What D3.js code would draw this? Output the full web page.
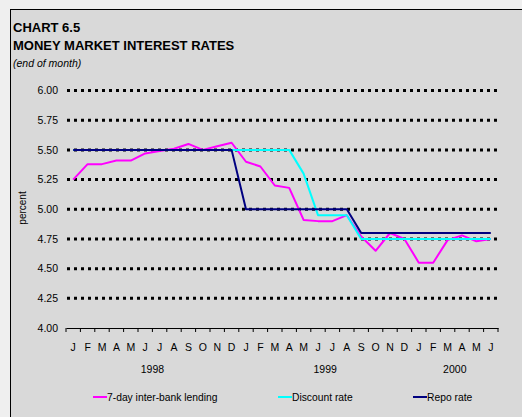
<!DOCTYPE html>
<html>
<head>
<meta charset="utf-8">
<script src="https://cdnjs.cloudflare.com/ajax/libs/d3/7.8.5/d3.min.js"></script>
<style>
  body { margin: 0; background: #efefef; }
  svg { display: block; font-family: "Liberation Sans", Arial, sans-serif; }
</style>
</head>
<body>
<svg id="chart" width="522" height="417"></svg>
<script>
// month letters, Jan 1998 .. Jun 2000
var months = ["J","F","M","A","M","J","J","A","S","O","N","D",
              "J","F","M","A","M","J","J","A","S","O","N","D",
              "J","F","M","A","M","J"];
var years = ["1998", "1999", "2000"];
var yearSpans = [[0, 11], [12, 23], [24, 29]];
var yTicks = [4.00, 4.25, 4.50, 4.75, 5.00, 5.25, 5.50, 5.75, 6.00];

var interbank = [5.25, 5.38, 5.38, 5.41, 5.41, 5.47, 5.49, 5.51, 5.55, 5.50, 5.53, 5.56,
                 5.40, 5.36, 5.20, 5.18, 4.91, 4.90, 4.90, 4.95, 4.77, 4.65, 4.80, 4.75,
                 4.55, 4.55, 4.74, 4.78, 4.73, 4.75];
var discount  = [5.50, 5.50, 5.50, 5.50, 5.50, 5.50, 5.50, 5.50, 5.50, 5.50, 5.50, 5.50,
                 5.50, 5.50, 5.50, 5.50, 5.30, 4.95, 4.95, 4.95, 4.75, 4.75, 4.75, 4.75,
                 4.75, 4.75, 4.75, 4.75, 4.75, 4.75];
var repo      = [5.50, 5.50, 5.50, 5.50, 5.50, 5.50, 5.50, 5.50, 5.50, 5.50, 5.50, 5.50,
                 5.00, 5.00, 5.00, 5.00, 5.00, 5.00, 5.00, 5.00, 4.80, 4.80, 4.80, 4.80,
                 4.80, 4.80, 4.80, 4.80, 4.80, 4.80];

var series = [
  {name: "7-day inter-bank lending", color: "#ff00ff", values: interbank},
  {name: "Discount rate", color: "#00ffff", values: discount},
  {name: "Repo rate", color: "#000080", values: repo}
];

var svg = d3.select("#chart");

// chart frame (runs off the right and bottom edge)
svg.append("rect")
  .attr("x", 10.5).attr("y", 9.5)
  .attr("width", 530).attr("height", 420)
  .attr("fill", "#d9d9d9")
  .attr("stroke", "#000").attr("stroke-width", 1);

// titles
svg.append("text").attr("x", 13).attr("y", 32)
  .attr("font-size", "13px").attr("font-weight", "bold")
  .text("CHART 6.5");
svg.append("text").attr("x", 13).attr("y", 50)
  .attr("font-size", "13px").attr("font-weight", "bold")
  .text("MONEY MARKET INTEREST RATES");
svg.append("text").attr("x", 13).attr("y", 67)
  .attr("font-size", "10.5px").attr("font-style", "italic")
  .text("(end of month)");

var plotL = 66, plotR = 498, plotT = 90.5, plotB = 328;

var x = d3.scaleBand()
  .domain(d3.range(months.length))
  .range([plotL, plotR]);

var y = d3.scaleLinear()
  .domain([4, 6])
  .range([plotB, plotT]);

// dotted gridlines
svg.append("g").selectAll("line")
  .data(yTicks.filter(function(d) { return d > 4; }))
  .enter().append("line")
    .attr("x1", plotL + 1).attr("x2", plotR)
    .attr("y1", function(d) { return y(d); })
    .attr("y2", function(d) { return y(d); })
    .attr("stroke", "#000")
    .attr("stroke-width", 3)
    .attr("stroke-dasharray", "3,4");

// y labels
svg.append("g").selectAll("text")
  .data(yTicks)
  .enter().append("text")
    .attr("x", 58)
    .attr("y", function(d) { return y(d); })
    .attr("dy", "0.36em")
    .attr("text-anchor", "end")
    .attr("font-size", "10.5px")
    .text(function(d) { return d3.format(".2f")(d); });

svg.append("text")
  .attr("transform", "translate(26,208) rotate(-90)")
  .attr("text-anchor", "middle")
  .attr("font-size", "10px")
  .text("percent");

// x axis with ticks between months
var xAxis = d3.axisBottom(x).tickSize(0).tickFormat("");
svg.append("g")
  .attr("transform", "translate(0," + plotB + ")")
  .call(xAxis)
  .call(function(g) { g.select(".domain").attr("stroke", "#000").attr("stroke-width", 1); });

svg.append("g").selectAll("line")
  .data(d3.range(months.length + 1))
  .enter().append("line")
    .attr("x1", function(i) { return plotL + i * x.step(); })
    .attr("x2", function(i) { return plotL + i * x.step(); })
    .attr("y1", plotB).attr("y2", plotB + 4)
    .attr("stroke", "#000");

svg.append("g").selectAll("text")
  .data(months)
  .enter().append("text")
    .attr("x", function(d, i) { return x(i) + x.bandwidth() / 2; })
    .attr("y", 351)
    .attr("text-anchor", "middle")
    .attr("font-size", "10.5px")
    .text(function(d) { return d; });

svg.append("g").selectAll("text")
  .data(years)
  .enter().append("text")
    .attr("x", function(d, i) {
      var s = yearSpans[i];
      return (x(s[0]) + x(s[1]) + x.bandwidth()) / 2;
    })
    .attr("y", 373)
    .attr("text-anchor", "middle")
    .attr("font-size", "10.5px")
    .text(function(d) { return d; });

// lines
var line = d3.line()
  .x(function(d, i) { return x(i) + x.bandwidth() / 2; })
  .y(function(d) { return y(d); });

series.forEach(function(s) {
  svg.append("path")
    .datum(s.values)
    .attr("d", line)
    .attr("fill", "none")
    .attr("stroke", s.color)
    .attr("stroke-width", 2)
    .attr("stroke-linejoin", "round");
});

// legend
var legendX = [93, 278, 413];
var lg = svg.append("g").selectAll("g")
  .data(series)
  .enter().append("g")
    .attr("transform", function(d, i) { return "translate(" + legendX[i] + ",397)"; });
lg.append("line")
  .attr("x1", 0).attr("x2", 14)
  .attr("stroke", function(d) { return d.color; })
  .attr("stroke-width", 2);
lg.append("text")
  .attr("x", 14)
  .attr("dy", "0.36em")
  .attr("font-size", "10.3px")
  .text(function(d) { return d.name; });
</script>
</body>
</html>
